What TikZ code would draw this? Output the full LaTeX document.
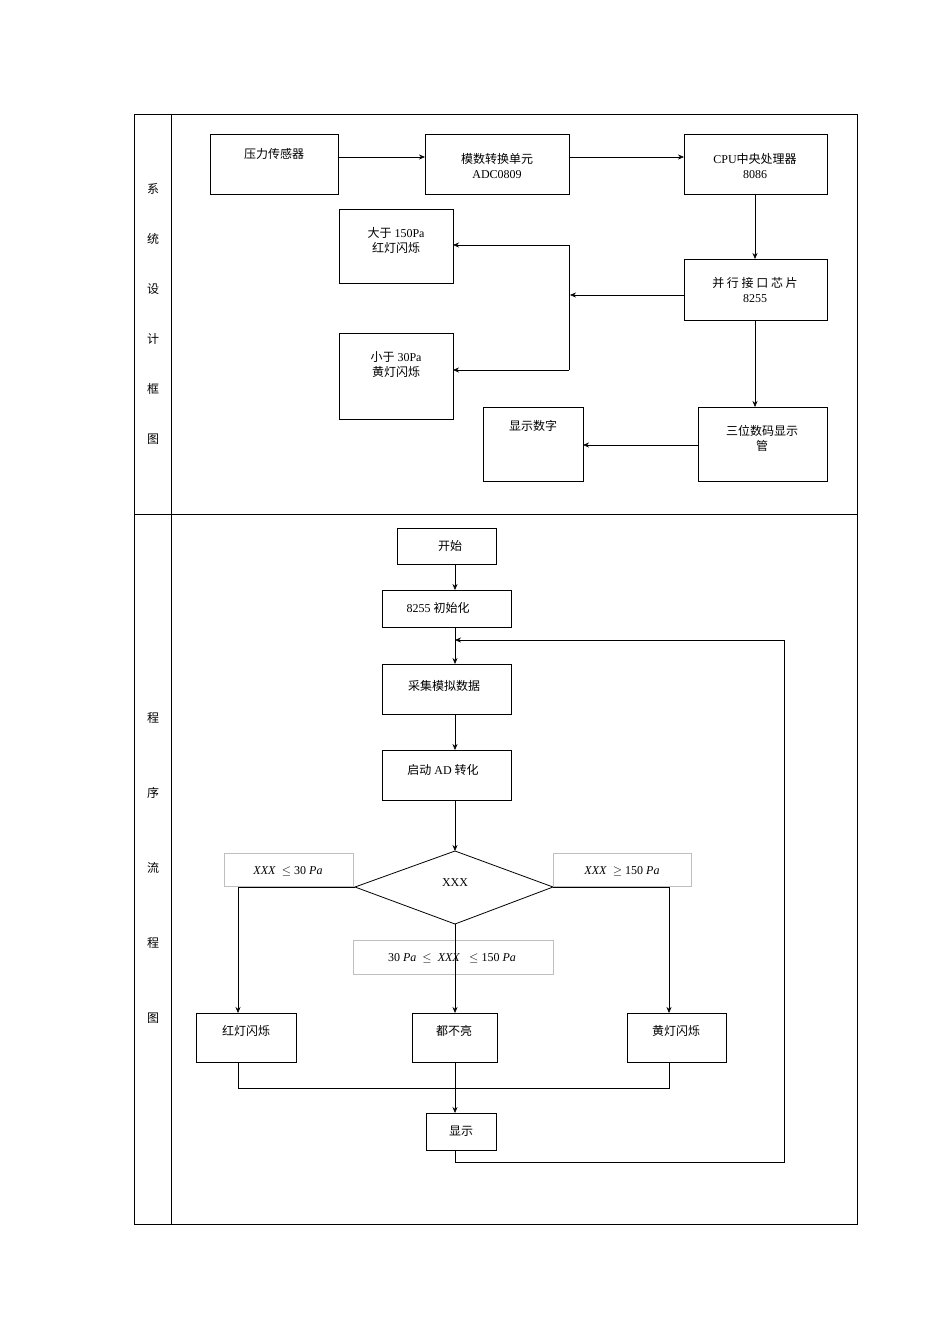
\documentclass[tikz,border=0pt]{standalone}
\usepackage{fontspec}
\setmainfont{Liberation Serif}
\newfontfamily\cjk{Noto Sans CJK SC}
\usetikzlibrary{arrows.meta}
\begin{document}
\begin{tikzpicture}[x=1pt,y=-1pt,
 box/.style={draw,thick,inner sep=0},
 lab/.style={draw=black!25,inner sep=0},
 ar/.style={-{Stealth[length=6pt,width=5pt]},semithick},
 ln/.style={semithick},
 t/.style={font=\fontsize{12}{15}\selectfont,align=center}]
\useasboundingbox (0,0) rectangle (950,1344);
\draw[semithick] (134,114) rectangle (857,1224);
\draw[semithick] (171,114) -- (171,1224);
\draw[semithick] (134,514) -- (857,514);
\foreach \c/\y in {系/189,统/239,设/289,计/339,框/389,图/439,程/718,序/793,流/868,程/943,图/1018}
  \node[t] at (153,\y) {\cjk \c};
% top boxes
\draw[box] (210,134) rectangle (338,194) coordinate (a2); \node[t] (a) at (274,154) {\cjk 压力传感器};
\draw[box] (425,134) rectangle (569,194); \node[t] (b) at (497,166) {\cjk 模数转换单元\\ADC0809};
\draw[box] (684,134) rectangle (827,194); \node[t] (c) at (755,166) {CPU\cjk 中央处理器\\8086};
\draw[box] (339,209) rectangle (453,283); \node[t] (d) at (396,240) {\cjk 大于\rm\ 150Pa\\\cjk 红灯闪烁};
\draw[box] (684,259) rectangle (827,320); \node[t] (e) at (755,290) {\cjk 并 行 接 口 芯 片\\8255};
\draw[box] (339,333) rectangle (453,419); \node[t] (f) at (396,365) {\cjk 小于\rm\ 30Pa\\\cjk 黄灯闪烁};
\draw[box] (483,407) rectangle (583,481); \node[t] (g) at (533,426) {\cjk 显示数字};
\draw[box] (698,407) rectangle (827,481); \node[t] (h) at (762,438) {\cjk 三位数码显示\\\cjk 管};
\coordinate (p1) at (338,157); \coordinate (p2) at (425,157);
\draw[ar] (p1) -- (p2);
\coordinate (p3) at (569,157); \coordinate (p4) at (684,157);
\draw[ar] (p3) -- (p4);
\coordinate (p5) at (755,194); \coordinate (p6) at (755,259);
\draw[ar] (p5) -- (p6);
\coordinate (p7) at (684,295); \coordinate (p8) at (570,295);
\draw[ar] (p7) -- (p8);
\coordinate (q1) at (569,245); \coordinate (q2) at (569,370);
\draw[ln] (q1) -- (q2);
\coordinate (q3) at (453,245); \coordinate (q4) at (453,370);
\draw[ar] (q1) -- (q3); \draw[ar] (q2) -- (q4);
\coordinate (p9) at (755,320); \coordinate (p10) at (755,407);
\draw[ar] (p9) -- (p10);
\coordinate (p11) at (698,445); \coordinate (p12) at (583,445);
\draw[ar] (p11) -- (p12);
% flowchart
\draw[box] (397,528) rectangle (496,564); \node[t] at (450,546) {\cjk 开始};
\draw[box] (382,590) rectangle (511,627); \node[t] at (438,608) {8255 \cjk 初始化};
\draw[box] (382,664) rectangle (511,714); \node[t] at (444,686) {\cjk 采集模拟数据};
\draw[box] (382,750) rectangle (511,800); \node[t] at (443,770) {\cjk 启动\rm\ AD \cjk 转化};
\draw[box] (355,887) -- (455,851) -- (553,887) -- (455,924) -- cycle;
\node[t] at (455,883) {XXX};
\draw[lab] (224,853) rectangle (353,886); \node[t] at (288,871) {\textit{XXX}\ \ $\le$ 30 \textit{Pa}};
\draw[lab] (553,853) rectangle (691,886); \node[t] at (622,871) {\textit{XXX}\ \ $\ge$ 150 \textit{Pa}};
\draw[lab] (353,940) rectangle (553,974); \node[t] at (452,958) {30 \textit{Pa}\ \ $\le$\ \ \textit{XXX}\ \ \ $\le$ 150 \textit{Pa}};
\draw[box] (196,1013) rectangle (296,1062); \node[t] at (246,1031) {\cjk 红灯闪烁};
\draw[box] (412,1013) rectangle (497,1062); \node[t] at (454,1031) {\cjk 都不亮};
\draw[box] (627,1013) rectangle (726,1062); \node[t] at (676,1031) {\cjk 黄灯闪烁};
\draw[box] (426,1113) rectangle (496,1150); \node[t] at (461,1131) {\cjk 显示};
\foreach \ya/\yb in {564/590,627/664,714/750,800/851,924/1013,1062/1113}
  \draw[ar] (455,\ya) -- (455,\yb);
\draw[ar] (355,887) -- (238,887) -- (238,1013);
\draw[ar] (553,887) -- (669,887) -- (669,1013);
\draw[ln] (238,1062) -- (238,1088) -- (669,1088) -- (669,1062);
\draw[ar] (455,1150) -- (455,1162) -- (784,1162) -- (784,640) -- (455,640);
\end{tikzpicture}
\end{document}
